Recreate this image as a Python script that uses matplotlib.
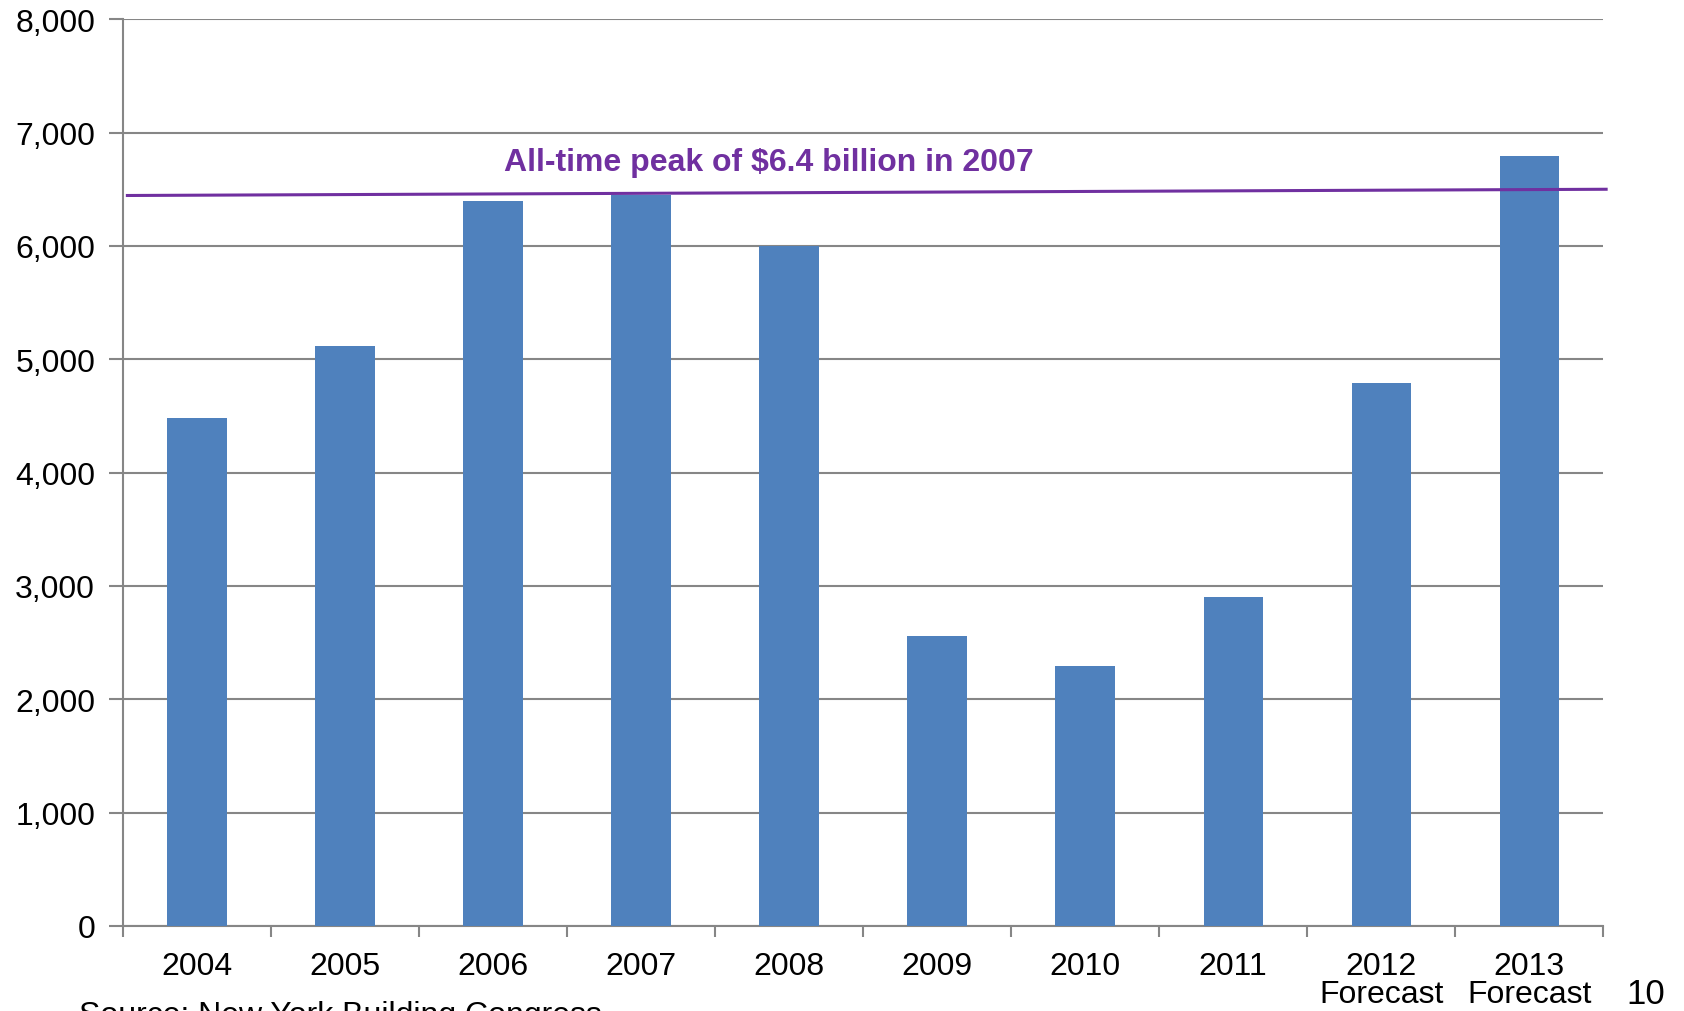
import matplotlib
matplotlib.use("Agg")
import matplotlib.pyplot as plt   # noqa: E402
import numpy as np                # noqa: E402
from matplotlib.ticker import FuncFormatter  # noqa: E402

YEARS = ["2004", "2005", "2006", "2007", "2008", "2009", "2010", "2011",
         "2012\nForecast", "2013\nForecast"]
SPENDING = [4480, 5115, 6400, 6445, 6000, 2560, 2290, 2900, 4790, 6790]

# peak reference line (drawn slightly sloped) and its caption
PEAK_LINE_X = [-0.47, 9.52]
PEAK_LINE_Y = [6445, 6500]
PEAK_LABEL = "All-time peak of $6.4 billion in 2007"

BAR = "#4F81BD"
GRID = "#868686"
PURPLE = "#7030A0"

plt.rcParams["font.family"] = ["Liberation Sans", "DejaVu Sans"]

fig = plt.figure(figsize=(16.84, 10.12), dpi=100)
ax = fig.add_axes([0.073, 0.084, 0.879, 0.896])

x = np.arange(len(YEARS))
ax.bar(x, SPENDING, width=0.40, color=BAR, zorder=3)

ax.set_xlim(-0.5, len(YEARS) - 0.5)
ax.set_ylim(0, 8000)
ax.set_yticks(np.arange(0, 8001, 1000))
ax.yaxis.set_major_formatter(FuncFormatter(lambda v, _: f"{v:,.0f}"))
ax.grid(axis="y", color=GRID, lw=1.5, zorder=0)

# category labels in the middle, tick marks on the boundaries
ax.set_xticks(x)
ax.set_xticklabels(YEARS, linespacing=0.92)
ax.set_xticks(np.arange(-0.5, len(YEARS)), minor=True)
ax.tick_params(axis="x", which="major", length=0, pad=18, labelsize=23)
ax.tick_params(axis="x", which="minor", length=8, width=1.5, color=GRID)
ax.tick_params(axis="y", length=10, width=1.5, color=GRID, pad=10,
               labelsize=23)

for side in ("top", "right"):
    ax.spines[side].set_visible(False)
for side in ("left", "bottom"):
    ax.spines[side].set_color(GRID)
    ax.spines[side].set_linewidth(1.5)

ax.plot(PEAK_LINE_X, PEAK_LINE_Y, color=PURPLE, lw=2.2, zorder=4,
        clip_on=False)
ax.text(3.86, 6740, PEAK_LABEL, color=PURPLE, fontsize=23, weight="bold",
        ha="center", va="center")

fig.text(0.047, -0.012, "Source: New York Building Congress", fontsize=23,
         va="baseline")
fig.text(0.966, 0.008, "10", fontsize=25, va="baseline")

fig.savefig("out.png", dpi=100)
